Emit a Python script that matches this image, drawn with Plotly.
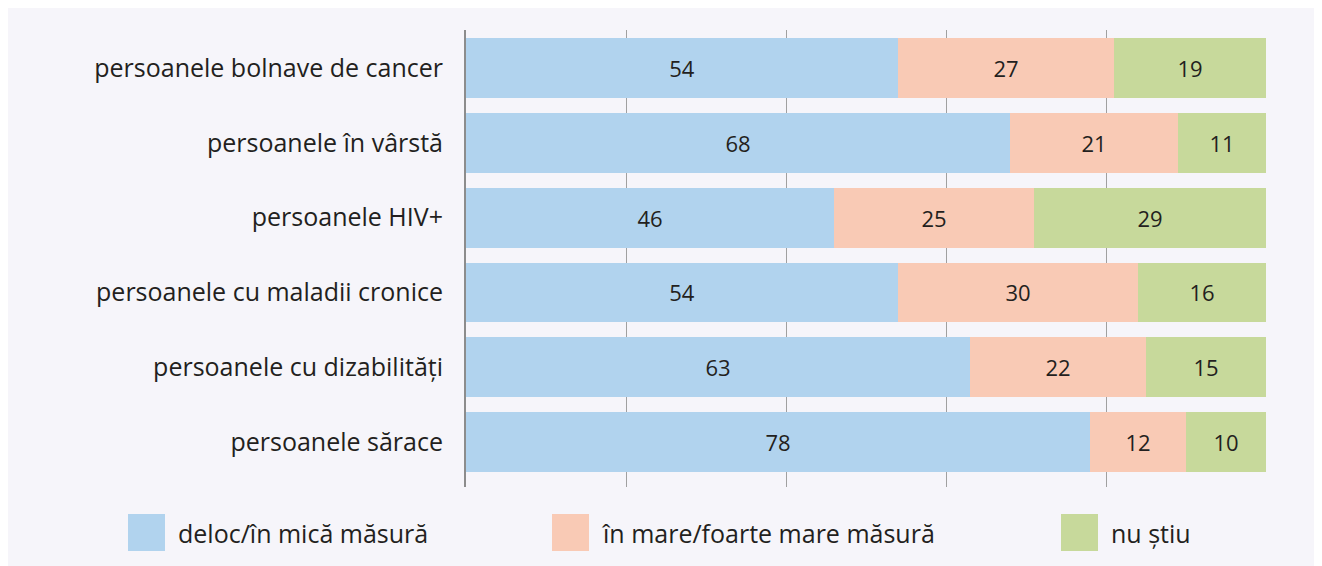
import plotly.graph_objects as go

categories = [
    "persoanele bolnave de cancer",
    "persoanele în vârstă",
    "persoanele HIV+",
    "persoanele cu maladii cronice",
    "persoanele cu dizabilități",
    "persoanele sărace",
]
series_names = ["deloc/în mică măsură", "în mare/foarte mare măsură", "nu știu"]
deloc = [54, 68, 46, 54, 63, 78]
in_mare = [27, 21, 25, 30, 22, 12]
nu_stiu = [19, 11, 29, 16, 15, 10]
series_values = [deloc, in_mare, nu_stiu]
colors = ["#B1D3EE", "#F9CAB5", "#C7D99B"]

FONT = "Open Sans"
TXT = "#231F20"

# figure size and plot area (figure pixels; page adds an 8px body margin)
W, H = 1322, 566
L, R, T, B = 458, 1258, 22, 479


def px(x):
    return (x - L) / (R - L)


def py(y):
    return (B - y) / (B - T)


fig = go.Figure()
for name, vals, col in zip(series_names, series_values, colors):
    fig.add_trace(go.Bar(
        y=categories, x=vals, name=name, orientation="h",
        marker=dict(color=col, line=dict(width=0)),
        text=[str(v) for v in vals], textposition="inside",
        insidetextanchor="middle", textangle=0, constraintext="none",
        textfont=dict(family=FONT, size=22, color=TXT),
        showlegend=False, hoverinfo="x+y+name",
    ))

shapes = []
annotations = []
legend_x = [120, 544, 1053]
for name, col, lx in zip(series_names, colors, legend_x):
    shapes.append(dict(type="rect", xref="paper", yref="paper",
                       x0=px(lx), x1=px(lx + 37), y0=py(543), y1=py(506),
                       fillcolor=col, line=dict(width=0)))
    annotations.append(dict(xref="paper", yref="paper", x=px(lx + 48), y=py(525),
                            text=name, showarrow=False, xanchor="left",
                            yanchor="middle",
                            font=dict(family=FONT, size=25, color=TXT)))

fig.update_layout(
    barmode="stack",
    bargap=0.2,
    width=W, height=H,
    margin=dict(l=L, r=W - R, t=T, b=H - B, pad=0),
    paper_bgcolor="#F6F5FA",
    plot_bgcolor="rgba(0,0,0,0)",
    shapes=shapes,
    annotations=annotations,
    xaxis=dict(range=[0, 100], dtick=20, showgrid=True, gridcolor="#A0A0A0",
               gridwidth=1, showticklabels=False, zeroline=False,
               showline=False, fixedrange=True),
    yaxis=dict(categoryorder="array", categoryarray=categories,
               range=[5.6, -0.507], showgrid=False, zeroline=False,
               showline=True, linecolor="#8C8C8C", linewidth=2,
               ticks="", ticklabelstandoff=16,
               tickfont=dict(family=FONT, size=25, color=TXT)),
    font=dict(family=FONT, color=TXT),
)

fig.write_html(
    "out.html",
    post_script="document.documentElement.style.overflow='hidden';"
                "document.body.style.overflow='hidden';",
)
